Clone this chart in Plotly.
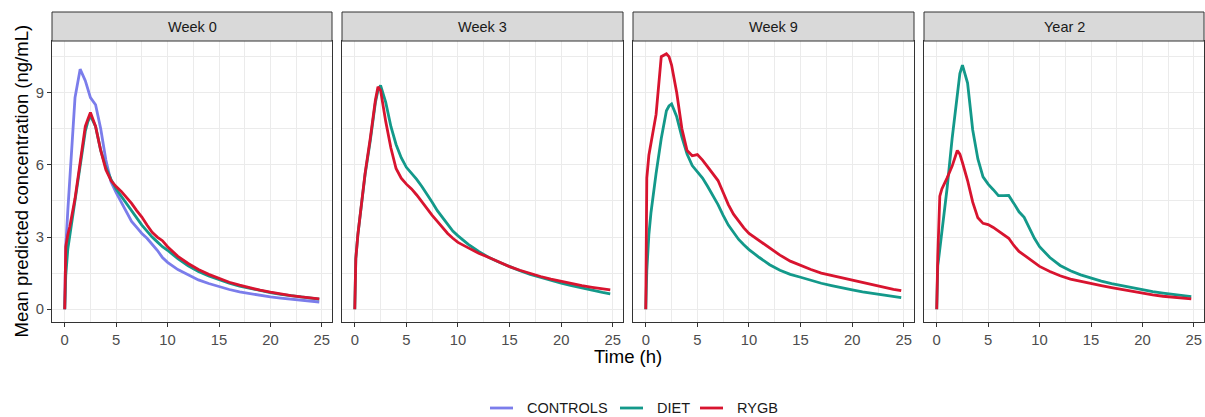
import plotly.graph_objects as go

# Sampling times (h) shared by every predicted profile
time_h = [0, 0.1, 0.3, 0.5, 1, 1.5, 2, 2.25, 2.5, 3, 3.5, 4, 4.5, 5, 5.5, 6, 6.5, 7,
          7.5, 8, 8.5, 9, 9.5, 10, 11, 12, 13, 14, 15, 16, 17, 18, 19, 20, 21, 22,
          23, 24, 24.75]

visits = ["Week 0", "Week 3", "Week 9", "Year 2"]
groups = ["CONTROLS", "DIET", "RYGB"]

# Mean predicted concentration (ng/mL), per visit and group
week0_controls = [0, 2.6, 4.1, 5.5, 8.8, 9.98, 9.5, 9.15, 8.8, 8.5, 7.5, 6.2, 5.3, 4.85,
                  4.45, 4.0, 3.65, 3.4, 3.15, 2.95, 2.72, 2.45, 2.15, 1.95, 1.65, 1.42,
                  1.22, 1.07, 0.93, 0.82, 0.72, 0.64, 0.57, 0.51, 0.46, 0.41, 0.37,
                  0.33, 0.30]
week0_diet = [0, 1.4, 2.5, 3.1, 4.4, 5.9, 7.4, 7.8, 8.05, 7.6, 6.6, 5.9, 5.4, 5.0, 4.7,
              4.35, 4.05, 3.75, 3.5, 3.25, 3.0, 2.8, 2.6, 2.45, 2.1, 1.8, 1.57, 1.38,
              1.22, 1.08, 0.96, 0.86, 0.77, 0.69, 0.62, 0.56, 0.5, 0.45, 0.42]
week0_rygb = [0, 2.6, 3.1, 3.45, 4.6, 6.0, 7.6, 7.9, 8.18, 7.6, 6.6, 5.8, 5.35, 5.1, 4.9,
              4.65, 4.4, 4.1, 3.83, 3.5, 3.2, 3.0, 2.85, 2.6, 2.2, 1.9, 1.65, 1.45, 1.27,
              1.12, 1.0, 0.89, 0.79, 0.71, 0.63, 0.57, 0.51, 0.46, 0.43]

week3_diet = [0, 2.1, 3.1, 3.85, 5.6, 7.0, 8.6, 9.1, 9.3, 8.6, 7.6, 6.85, 6.3, 5.9, 5.65,
              5.4, 5.1, 4.8, 4.45, 4.1, 3.8, 3.5, 3.25, 3.05, 2.7, 2.4, 2.15, 1.95, 1.77,
              1.6, 1.45, 1.32, 1.2, 1.08, 0.98, 0.88, 0.79, 0.7, 0.64]
week3_rygb = [0, 2.1, 3.1, 3.85, 5.65, 7.1, 8.7, 9.25, 9.1, 7.8, 6.7, 5.85, 5.45, 5.2,
              5.0, 4.75, 4.45, 4.15, 3.9, 3.65, 3.4, 3.15, 2.95, 2.78, 2.55, 2.33, 2.15,
              1.95, 1.77, 1.62, 1.48, 1.36, 1.25, 1.15, 1.06, 0.98, 0.91, 0.84, 0.8]

week9_diet = [0, 1.6, 3.1, 4.0, 5.65, 7.1, 8.25, 8.45, 8.53, 8.0, 7.15, 6.45, 5.97, 5.72,
              5.45, 5.1, 4.75, 4.35, 3.9, 3.5, 3.2, 2.9, 2.68, 2.48, 2.15, 1.85, 1.62,
              1.45, 1.33, 1.2, 1.08, 0.98, 0.88, 0.8, 0.72, 0.65, 0.58, 0.51, 0.48]
week9_rygb = [0, 5.45, 6.4, 6.85, 8.1, 10.5, 10.62, 10.5, 10.15, 9.0, 7.5, 6.6, 6.38,
              6.43, 6.2, 5.92, 5.65, 5.35, 4.85, 4.35, 3.95, 3.65, 3.38, 3.15, 2.85, 2.55,
              2.25, 2.0, 1.82, 1.65, 1.5, 1.4, 1.3, 1.21, 1.11, 1.0, 0.92, 0.83, 0.77]

year2_diet = [0, 1.8, 2.5, 3.2, 5.0, 7.1, 9.0, 9.8, 10.15, 9.4, 7.45, 6.25, 5.5, 5.2,
              4.97, 4.72, 4.72, 4.73, 4.4, 4.05, 3.82, 3.4, 2.95, 2.6, 2.15, 1.82, 1.6,
              1.43, 1.29, 1.17, 1.06, 0.97, 0.88, 0.8, 0.73, 0.67, 0.61, 0.55, 0.52]
year2_rygb = [0, 2.2, 4.7, 5.0, 5.45, 5.95, 6.6, 6.45, 6.1, 5.35, 4.45, 3.8, 3.57, 3.52,
              3.4, 3.25, 3.1, 2.95, 2.65, 2.4, 2.25, 2.1, 1.92, 1.78, 1.57, 1.39, 1.25,
              1.15, 1.07, 0.98, 0.9, 0.82, 0.75, 0.66, 0.6, 0.54, 0.49, 0.45, 0.43]

profiles = {
    "Week 0": {"CONTROLS": week0_controls, "DIET": week0_diet, "RYGB": week0_rygb},
    "Week 3": {"DIET": week3_diet, "RYGB": week3_rygb},
    "Week 9": {"DIET": week9_diet, "RYGB": week9_rygb},
    "Year 2": {"DIET": year2_diet, "RYGB": year2_rygb},
}

colors = {"CONTROLS": "#7b7deb", "DIET": "#13998a", "RYGB": "#d8142f"}

W, H = 1205, 417
FONT = "Liberation Sans, Arial, sans-serif"

# panel geometry in pixels
panel_x = [(52, 332), (342, 623), (633, 914), (924, 1204)]
panel_top, panel_bottom = 41, 322
strip_top = 12

# legend key geometry in pixels (key line start, label start)
legend_y = 408
legend_keys = {"CONTROLS": (490, 525), "DIET": (620, 655), "RYGB": (700, 735)}
key_len = 23


def px_x(v):
    return v / W


def px_y(v):
    return 1 - v / H


# ggplot-like 5% expansion of the data range
tmin, tmax = min(time_h), max(time_h)
all_vals = [v for g in profiles.values() for s in g.values() for v in s]
vmin, vmax = min(all_vals), max(all_vals)
x_range = [tmin - 0.05 * (tmax - tmin), tmax + 0.05 * (tmax - tmin)]
y_range = [vmin - 0.05 * (vmax - vmin), vmax + 0.05 * (vmax - vmin)]

fig = go.Figure()
for i, visit in enumerate(visits):
    xa = "x" if i == 0 else f"x{i + 1}"
    ya = "y" if i == 0 else f"y{i + 1}"
    for grp in groups:
        if grp not in profiles[visit]:
            continue
        fig.add_trace(go.Scatter(
            x=time_h, y=profiles[visit][grp], mode="lines", name=grp,
            line=dict(color=colors[grp], width=2.8),
            xaxis=xa, yaxis=ya, legendgroup=grp, showlegend=False,
        ))

layout = dict(
    width=W, height=H,
    margin=dict(l=0, r=0, t=0, b=0, autoexpand=False),
    paper_bgcolor="white", plot_bgcolor="white",
    font=dict(family=FONT, size=15, color="#4d4d4d"),
    showlegend=False,
)

grid = "#ebebeb"
for i, (x0, x1) in enumerate(panel_x):
    key = "" if i == 0 else str(i + 1)
    layout[f"xaxis{key}"] = dict(
        domain=[px_x(x0), px_x(x1)], range=x_range, anchor=f"y{key}",
        tickvals=[0, 5, 10, 15, 20, 25], ticks="outside", ticklen=4,
        tickcolor="#333333", tickwidth=1, showline=True, mirror=True,
        linecolor="#333333", linewidth=1, showgrid=True, gridcolor=grid,
        gridwidth=1.3, zeroline=False, automargin=False,
        tickfont=dict(size=14.8, color="#4d4d4d"),
        minor=dict(tickvals=[2.5, 7.5, 12.5, 17.5, 22.5], showgrid=True,
                   gridcolor=grid, gridwidth=0.7, ticks=""),
    )
    layout[f"yaxis{key}"] = dict(
        domain=[px_y(panel_bottom), px_y(panel_top)], range=y_range,
        anchor=f"x{key}", tickvals=[0, 3, 6, 9],
        ticks="outside" if i == 0 else "", ticklen=4, tickcolor="#333333",
        tickwidth=1, showticklabels=(i == 0), showline=True, mirror=True,
        linecolor="#333333", linewidth=1, showgrid=True, gridcolor=grid,
        gridwidth=1.3, zeroline=False, automargin=False,
        tickfont=dict(size=14.8, color="#4d4d4d"),
        minor=dict(tickvals=[1.5, 4.5, 7.5, 10.5], showgrid=True,
                   gridcolor=grid, gridwidth=0.7, ticks=""),
    )

shapes = []
annotations = []
# facet strips
for i, (x0, x1) in enumerate(panel_x):
    shapes.append(dict(type="rect", xref="paper", yref="paper",
                       x0=px_x(x0), x1=px_x(x1), y0=px_y(panel_top), y1=px_y(strip_top),
                       fillcolor="#d9d9d9", line=dict(color="#333333", width=1)))
    annotations.append(dict(text=visits[i], xref="paper", yref="paper",
                            x=px_x((x0 + x1) / 2), y=px_y((strip_top + panel_top) / 2),
                            xanchor="center", yanchor="middle", showarrow=False,
                            font=dict(size=14.5, color="#1a1a1a")))

# bottom legend: coloured key line plus group label
for grp in groups:
    lx, tx = legend_keys[grp]
    shapes.append(dict(type="line", xref="paper", yref="paper",
                       x0=px_x(lx), x1=px_x(lx + key_len),
                       y0=px_y(legend_y), y1=px_y(legend_y),
                       line=dict(color=colors[grp], width=2.8)))
    annotations.append(dict(text=grp, xref="paper", yref="paper",
                            x=px_x(tx), y=px_y(legend_y), xanchor="left",
                            yanchor="middle", showarrow=False,
                            font=dict(size=14.5, color="#1a1a1a")))

annotations.append(dict(text="Time (h)", xref="paper", yref="paper",
                        x=px_x((panel_x[0][0] + panel_x[-1][1]) / 2), y=px_y(356),
                        xanchor="center", yanchor="middle", showarrow=False,
                        font=dict(size=18.5, color="black")))
annotations.append(dict(text="Mean predicted concentration (ng/mL)", xref="paper",
                        yref="paper", x=px_x(21), y=px_y((panel_top + panel_bottom) / 2),
                        xanchor="center", yanchor="middle", textangle=-90,
                        showarrow=False, font=dict(size=18.5, color="black")))

layout["shapes"] = shapes
layout["annotations"] = annotations
fig.update_layout(**layout)

fig.write_html("out.html")
